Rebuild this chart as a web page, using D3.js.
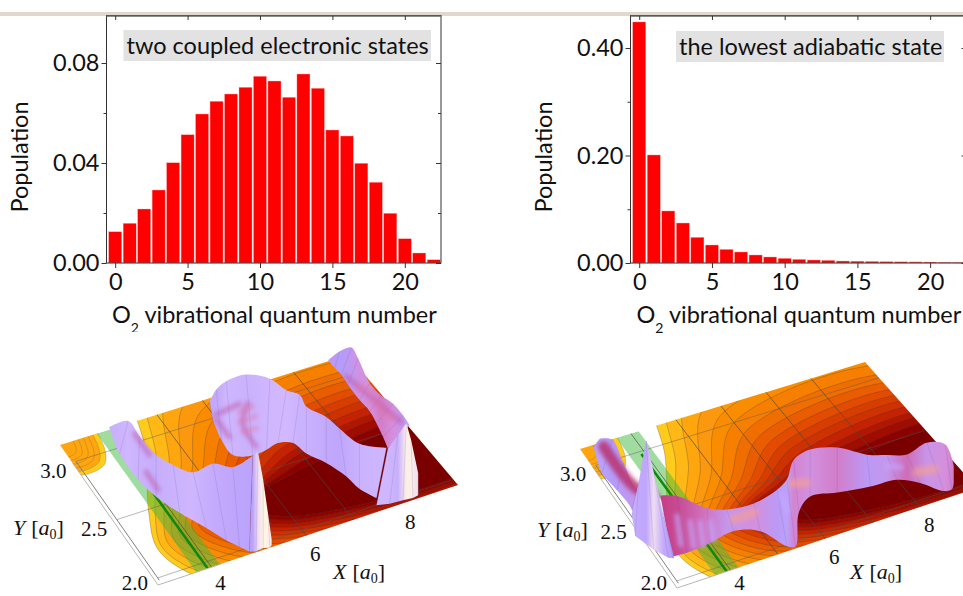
<!DOCTYPE html>
<html>
<head>
<meta charset="utf-8">
<script src="https://cdn.jsdelivr.net/npm/d3@7"></script>
<style>
  html, body { margin: 0; padding: 0; background: #fff; overflow: hidden; }
  text { font-family: Lato, sans-serif; fill: #111; }
</style>
</head>
<body>
<div class="chart"></div>
<script>
// bar charts
const vibrational = d3.range(0, 23);
const coupledPopulation = [0.0125, 0.0159, 0.0216, 0.0292, 0.0401, 0.0513, 0.0596, 0.0647, 0.0676, 0.0703, 0.0747, 0.0728,
  0.0663, 0.0756, 0.0699, 0.0532, 0.0508, 0.0399, 0.0323, 0.0199, 0.0097, 0.004, 0.0013];
const adiabaticPopulation = [0.4485, 0.201, 0.0968, 0.0744, 0.0478, 0.0335, 0.0254, 0.0205, 0.0149, 0.0112, 0.0087, 0.0068,
  0.0056, 0.005, 0.0037, 0.0034, 0.003, 0.0025, 0.0022, 0.002, 0.0018, 0.0015, 0.0012];
const vibTicks = [0, 5, 10, 15, 20];
const coupledMajor = [0, 0.04, 0.08];
const coupledMinor = [0.02, 0.06];
const adiabaticMajor = [0, 0.2, 0.4];
const adiabaticMinor = [0.1, 0.3];

// potential floor, contour levels from outer to inner
const levelNose = [3.3, 3.4, 3.55, 3.7, 3.85, 4.0, 4.15, 4.3, 4.45, 4.6, 4.72, 4.84, 4.95, 5.05, 5.15, 5.25];
const levelUpper = [3.6, 3.45, 3.3, 3.18, 3.08, 3.0, 2.92, 2.85, 2.79, 2.74, 2.69, 2.64, 2.59, 2.55, 2.5, 2.45];
const levelLower = [1.72, 1.76, 1.8, 1.83, 1.86, 1.89, 1.91, 1.93, 1.95, 1.97, 1.99, 2.01, 2.03, 2.05, 2.07, 2.09];
const cornerRadiusX = [0.76, 0.66, 0.56, 0.46, 0.36, 0.26];
const cornerRadiusY = [0.24, 0.21, 0.18, 0.15, 0.12, 0.09];
const xGrid = [4, 5, 6, 7, 8];
const yGrid = [2, 2.5, 3];
const xLabels = [4, 6, 8];
const yLabels = [2, 2.5, 3];

// wave packet ridges, rows are crest X, crest height, foot X, foot height, tone
const leftFar = [[6.46, 1.68, 6.46, 1.68, .6], [6.70, 1.73, 6.60, 1.58, .5], [6.95, 1.73, 6.74, 1.49, .6], [7.09, 1.60, 6.88, 1.37, .7],
  [7.34, 1.31, 7.12, 1.18, .75], [7.58, 1.15, 7.34, 1.03, .8], [7.83, 1.03, 7.48, .89, .75], [8.04, .88, 7.62, .73, .6], [8.18, .76, 7.72, .60, .35]];
const leftArch = [[3.96, 1.66, 4.03, 1.47, .4], [4.10, 1.76, 4.21, 1.24, .4], [4.31, 1.81, 4.45, 1.05, .3], [4.73, 1.81, 4.87, .98, .33],
  [5.23, 1.69, 5.16, .99, .3], [5.58, 1.52, 5.40, 1.02, .28], [5.86, 1.43, 5.72, .97, .33], [6.0, 1.29, 6.0, .82, .33],
  [6.42, 1.12, 6.42, .66, .4], [6.70, .96, 6.84, .46, .42], [7.12, .74, 7.12, .29, .33], [7.69, .61, 7.48, .14, .3]];
const leftSpikeFar = [[7.72, .60, 7.48, .07, .3], [7.93, .70, 7.76, .04, .35], [8.11, .79, 8.04, .03, .02], [8.21, .61, 8.25, .02, .02], [8.36, .25, 8.36, .03, .1]];
const leftWall = [[1.84, 1.74, 1.84, 1.74, .35], [2.24, 1.74, 2.06, 1.44, .3], [2.48, 1.55, 2.45, 1.12, .33], [2.83, 1.31, 2.83, .89, .36],
  [3.19, 1.15, 3.33, .65, .33], [3.61, 1.01, 3.89, .41, .3], [4.03, 1.03, 4.31, .22, .38], [4.45, .93, 4.59, .11, .42], [4.87, .98, 4.80, .03, .45]];
const leftSpikeNear = [[4.87, .98, 4.80, .03, .45], [4.98, 1.00, 4.94, .01, .1], [5.09, .70, 5.09, .02, .0], [5.19, .35, 5.23, .0, .0], [5.27, .07, 5.27, .02, .05]];
const leftStreaks = [[[2.38, 1.59], [2.69, 1.33]], [[2.62, 1.17], [2.87, .95]], [[4.10, 1.51], [4.59, 1.54]],
  [[4.77, 1.52], [4.66, 1.33], [4.94, 1.06]], [[4.10, 1.46], [4.38, 1.24]], [[6.84, 1.46], [7.34, 1.18], [8.0, .82]]];
const leftRipples = [[[4.59, 1.46], [4.87, 1.47]], [[4.59, 1.36], [4.94, 1.36]], [[4.66, 1.25], [4.94, 1.24]],
  [[7.12, 1.31], [7.40, 1.22]], [[7.34, 1.14], [7.62, 1.03]], [[7.55, .98], [7.83, .88]]];

const rightWall = [[1.25, 1.75, 1.11, 1.69, .45], [1.50, 1.70, 1.29, 1.40, .5], [1.74, 1.43, 1.60, 1.18, .55], [2.03, 1.12, 1.92, .93, .6], [2.38, 1.06, 1.99, .66, .7]];
const rightSpike = [[1.92, .90, 1.92, .87, .35], [2.06, 1.18, 1.99, .66, .4], [2.22, 1.58, 2.38, .46, .42], [2.38, 1.23, 2.69, .33, .1], [2.59, .76, 2.79, .31, .4], [2.81, .31, 2.81, .31, .5]];
const rightRidge = [[2.52, .98, 2.76, .33, .98], [2.87, .92, 3.08, .32, .95], [3.50, .70, 3.57, .34, .82], [3.92, .62, 4.07, .38, .62],
  [4.49, .59, 4.63, .29, .75], [4.98, .65, 5.19, .05, .55], [5.19, .72, 5.37, .02, .45], [5.33, .89, 5.44, .35, .78], [5.68, .94, 5.68, .47, .72],
  [6.25, .87, 6.25, .42, .8], [6.88, .70, 6.95, .37, .55], [7.30, .63, 7.51, .35, .62], [7.72, .57, 8.0, .24, .85], [8.14, .62, 8.50, .08, .65],
  [8.53, .54, 8.67, .07, .75], [8.71, .30, 8.71, .13, .8]];
const rightStreaks = [[[1.32, 1.66], [1.96, 1.16], [2.38, .99]]];
const rightRipples = [[[2.87, .72], [2.95, .42]], [[3.15, .62], [3.22, .36]], [[3.36, .58], [3.42, .34]], [[3.57, .55], [3.63, .36]],
  [[7.3, .52], [7.6, .46]], [[5.05, .6], [5.2, .4]]];
const rightGlow = [[[4.07, .50], [4.49, .50]], [[5.3, .66], [5.6, .62]], [[7.93, .36], [8.3, .33]]];

const svg = d3.select('.chart')
  .append('svg')
    .attr('width', 963)
    .attr('height', 596);

svg.append('rect')
  .attr('x', 0).attr('y', 12)
  .attr('width', 963).attr('height', 4)
  .attr('fill', '#dfd9cc');

const drawBars = (opts) => {
  const x = d3.scaleLinear().domain([-0.6, 22.5]).range(opts.xRange);
  const y = d3.scaleLinear().domain([0, opts.yMax]).range([263, 15.5]);
  const g = svg.append('g').classed('bars', true);
  const barWidth = (x(1) - x(0)) * 0.9;

  g.selectAll('rect')
    .data(opts.values)
    .enter()
    .append('rect')
      .attr('x', (d, i) => x(vibrational[i]) - barWidth / 2)
      .attr('y', (d) => y(d))
      .attr('width', barWidth)
      .attr('height', (d) => y(0) - y(d))
      .attr('fill', '#ff0000')
      .attr('stroke', '#ffb0b0')
      .attr('stroke-width', 0.4);

  // frame, darker on top
  const [x0, x1] = opts.xRange;
  g.append('rect')
    .attr('x', x0).attr('y', y.range()[1])
    .attr('width', x1 - x0).attr('height', y(0) - y.range()[1])
    .attr('fill', 'none')
    .attr('stroke', '#333');
  g.append('line')
    .attr('x1', x0).attr('x2', x1)
    .attr('y1', 16).attr('y2', 16)
    .attr('stroke', '#666').attr('stroke-width', 1.5);

  const bottom = g.append('g')
    .attr('transform', 'translate(0,263)')
    .call(d3.axisBottom(x).tickValues(vibTicks).tickSize(5).tickPadding(5).tickSizeOuter(0));
  bottom.selectAll('text').style('font-size', '23.5px').style('font-family', 'Lato');
  g.append('g')
    .attr('transform', 'translate(0,16)')
    .call(d3.axisBottom(x).tickValues(vibTicks).tickSize(4).tickFormat('').tickSizeOuter(0));
  const left = g.append('g')
    .attr('transform', `translate(${x0},0)`)
    .call(d3.axisLeft(y).tickValues(opts.major).tickSize(5).tickPadding(2).tickSizeOuter(0).tickFormat(d3.format('.2f')));
  left.selectAll('text').style('font-size', '23.5px').style('font-family', 'Lato');
  g.append('g')
    .attr('transform', `translate(${x0},0)`)
    .call(d3.axisLeft(y).tickValues(opts.minor).tickSize(3).tickFormat('').tickSizeOuter(0));
  g.append('g')
    .attr('transform', `translate(${x1},0)`)
    .call(d3.axisLeft(y).tickValues(opts.major).tickSize(5).tickFormat('').tickSizeOuter(0));
  g.append('g')
    .attr('transform', `translate(${x1},0)`)
    .call(d3.axisLeft(y).tickValues(opts.minor).tickSize(3).tickFormat('').tickSizeOuter(0));
  g.selectAll('.domain').remove();
  g.selectAll('.tick line').attr('stroke', '#333');

  g.append('text')
    .attr('transform', `translate(${opts.popX},157) rotate(-90)`)
    .attr('text-anchor', 'middle')
    .style('font-size', '23.5px')
    .text('Population');

  const xLabel = g.append('text')
    .attr('x', opts.labelX)
    .attr('y', 323)
    .style('font-size', '23.5px');
  xLabel.append('tspan').text('O');
  xLabel.append('tspan').attr('dy', 10).style('font-size', '14px').text('2');
  xLabel.append('tspan').attr('dy', -10).text(' vibrational quantum number');

  g.append('rect')
    .attr('x', opts.box[0]).attr('y', opts.box[1])
    .attr('width', opts.box[2]).attr('height', opts.box[3])
    .attr('fill', '#e2e2e2');
  g.append('text')
    .attr('x', opts.box[0] + 3)
    .attr('y', opts.box[1] + 24)
    .style('font-size', '23.5px')
    .text(opts.title);
};

drawBars({ values: coupledPopulation, xRange: [106.5, 441], yMax: 0.099, major: coupledMajor, minor: coupledMinor,
  popX: 28, labelX: 112, box: [123.5, 30, 307.5, 31], title: 'two coupled electronic states' });
drawBars({ values: adiabaticPopulation, xRange: [630.5, 966.5], yMax: 0.4605, major: adiabaticMajor, minor: adiabaticMinor,
  popX: 552, labelX: 636.5, box: [676, 31, 268, 31], title: 'the lowest adiabatic state' });

// the lower plot covers the foot of the left subscript
svg.append('rect').attr('x', 100).attr('y', 332).attr('width', 300).attr('height', 12).attr('fill', '#fff');

// 3d plots
const xDomain = [2.87, 9.2];
const yDomain = [1.95, 3.15];
const surfaceX = d3.scaleLinear().domain(xDomain).range([0, 1]);
const surfaceY = d3.scaleLinear().domain(yDomain).range([0, 1]);
const heightScale = d3.scaleLinear().domain([0, 1]).range([0, 100]);
const levelColor = d3.scaleLinear()
  .domain([0, 2, 5, 8, 11, 13, 15])
  .range(['#ffcb1f', '#ffa510', '#f77f00', '#e24c00', '#c42200', '#9e0c00', '#7a0000']);
const toneColor = d3.scaleLinear()
  .domain([0, 0.25, 0.5, 0.75, 1])
  .range(['#fff3e6', '#d6bcff', '#b49cfb', '#d58fdc', '#c4377f']);

const defs = svg.append('defs');
defs.append('filter').attr('id', 'soft')
  .append('feGaussianBlur').attr('stdDeviation', 0.5);
defs.append('filter').attr('id', 'blur')
  .attr('filterUnits', 'userSpaceOnUse')
  .attr('x', 0).attr('y', 0).attr('width', 963).attr('height', 596)
  .append('feGaussianBlur').attr('stdDeviation', 2);

const drawSurface = (opts) => {
  const { a, b, c, d } = opts;
  const project = (X, Y) => {
    const u = surfaceX(X), v = surfaceY(Y);
    const fx = a[0] + (b[0] - a[0]) * u, fy = a[1] + (b[1] - a[1]) * u;
    const bx = d[0] + (c[0] - d[0]) * u, by = d[1] + (c[1] - d[1]) * u;
    return [fx + (bx - fx) * v, fy + (by - fy) * v];
  };
  const ridgeX = d3.scaleLinear().domain(xDomain).range([a[0], b[0]]);
  const ridgeY = d3.scaleLinear().domain(xDomain).range([a[1], b[1]]);
  const lift = (X, h) => [ridgeX(X), ridgeY(X) - heightScale(h)];
  const smooth = d3.line().curve(d3.curveCatmullRom);
  const smoothClosed = d3.line().curve(d3.curveCatmullRomClosed);
  const straight = d3.line().curve(d3.curveLinearClosed);

  const clipId = `floor-${opts.id}`;
  defs.append('clipPath').attr('id', clipId)
    .append('path')
    .attr('d', straight([project(xDomain[0], yDomain[0]), project(xDomain[1], yDomain[0]),
      project(xDomain[1], yDomain[1]), project(xDomain[0], yDomain[1])]));

  const root = svg.append('g').classed('surface', true);
  const floor = root.append('g').attr('clip-path', `url(#${clipId})`).attr('filter', 'url(#soft)');

  // far corner patch
  floor.selectAll('.corner')
    .data(cornerRadiusX)
    .enter()
    .append('path')
      .classed('corner', true)
      .attr('d', (rx, i) => {
        const ry = cornerRadiusY[i], x0 = xDomain[0], y1 = yDomain[1];
        return smoothClosed([[x0 + rx, y1 + 0.1], [x0 + rx, y1 - 0.5 * ry], [x0 + 0.7 * rx, y1 - ry], [x0 - 0.1, y1 - ry], [x0 - 0.1, y1 + 0.1]]
          .map((p) => project(p[0], p[1])));
      })
      .attr('fill', (rx, i) => levelColor(i === 0 ? 0 : 2))
      .attr('stroke', '#444').attr('stroke-opacity', 0.35).attr('stroke-width', 0.6);

  // contour bands
  floor.selectAll('.level')
    .data(levelNose)
    .enter()
    .append('path')
      .classed('level', true)
      .attr('d', (xn, i) => {
        const yu = levelUpper[i], yl = levelLower[i];
        const ym = 2.2 + i * 0.01;
        const pts = [[10, yu], [xn + 2, yu], [xn + 1, ym + 0.5 * (yu - ym)], [xn + 0.3, ym + 0.2 * (yu - ym)], [xn, ym],
          [xn + 0.3, ym - 0.55 * (ym - yl)], [xn + 1.1, yl], [10, yl]];
        return smoothClosed(pts.map((p) => project(p[0], p[1])));
      })
      .attr('fill', (xn, i) => levelColor(i))
      .attr('stroke', '#333').attr('stroke-opacity', 0.45).attr('stroke-width', 0.6);

  // green stripe
  floor.append('path')
    .attr('d', straight([project(3.68, yDomain[0]), project(4.17, yDomain[0]), project(4.17, yDomain[1]), project(3.68, yDomain[1])]))
    .attr('fill', '#3fb83f').attr('fill-opacity', 0.5);
  floor.append('line')
    .datum([project(3.92, yDomain[0]), project(3.92, 2.98)])
    .attr('x1', (p) => p[0][0]).attr('y1', (p) => p[0][1])
    .attr('x2', (p) => p[1][0]).attr('y2', (p) => p[1][1])
    .attr('stroke', '#0a8a0a').attr('stroke-width', 2.5);

  // grid
  const grid = root.append('g');
  const gridLine = (p, q, color, w) => grid.append('line')
    .attr('x1', p[0]).attr('y1', p[1]).attr('x2', q[0]).attr('y2', q[1])
    .attr('stroke', color).attr('stroke-width', w);
  xGrid.forEach((X) => gridLine(project(X, yDomain[0]), project(X, yDomain[1]), 'rgba(70,70,70,0.65)', 1));
  yGrid.forEach((Y) => gridLine(project(2.95, Y), project(xDomain[1], Y), 'rgba(90,90,90,0.55)', 0.8));
  gridLine(project(xDomain[0], yDomain[0]), project(xDomain[0], 3), '#b5aea6', 0.9);
  gridLine(project(2.95, 1.98), project(2.95, 3), '#808080', 1);
  gridLine(project(xDomain[0], yDomain[0]), project(4.2, yDomain[0]), '#b5aea6', 0.9);

  // ridges, back to front, spikes keep their sharp tips
  const drawStrokes = (layer) => root.selectAll(null)
    .data(layer.lines)
    .enter()
    .append('path')
      .attr('d', (s) => smooth(s.map((p) => lift(p[0], p[1]))))
      .attr('fill', 'none')
      .attr('stroke', layer.color)
      .attr('stroke-width', layer.width)
      .attr('stroke-opacity', layer.opacity)
      .attr('stroke-linecap', 'round')
      .attr('filter', 'url(#blur)');

  opts.ridges.forEach((rows, k) => {
    const id = `ridge-${opts.id}-${k}`;
    const first = lift(rows[0][0], 0)[0], last = lift(rows[rows.length - 1][0], 0)[0];
    const grad = defs.append('linearGradient').attr('id', id)
      .attr('gradientUnits', 'userSpaceOnUse')
      .attr('x1', first).attr('x2', last).attr('y1', 0).attr('y2', 0);
    rows.forEach((r) => grad.append('stop')
      .attr('offset', (lift(r[0], 0)[0] - first) / (last - first))
      .attr('stop-color', toneColor(r[4])));
    const crest = rows.map((r) => lift(r[0], r[1]));
    const foot = rows.map((r) => lift(r[2], r[3])).reverse();
    const edge = opts.sharp.includes(k) ? d3.line() : smooth;
    root.append('path')
      .attr('d', `${edge(crest)}L${edge(foot).slice(1)}Z`)
      .attr('fill', `url(#${id})`)
      .attr('filter', 'url(#soft)');
    root.selectAll(null)
      .data(rows)
      .enter()
      .append('line')
        .attr('x1', (r) => lift(r[0], r[1])[0]).attr('y1', (r) => lift(r[0], r[1])[1])
        .attr('x2', (r) => lift(r[2], r[3])[0]).attr('y2', (r) => lift(r[2], r[3])[1])
        .attr('stroke', '#5a4a8a').attr('stroke-opacity', 0.25).attr('stroke-width', 0.6);
    if (k === opts.strokesAfter) opts.strokes.forEach(drawStrokes);
  });

  // labels
  const labels = root.append('g');
  const tick = (p, dx, dy, t) => labels.append('text')
    .attr('x', p[0] + dx).attr('y', Math.min(p[1] + dy, 583))
    .attr('text-anchor', 'middle')
    .attr('dominant-baseline', 'central')
    .style('font-family', '"Liberation Serif", serif')
    .style('font-size', '21px')
    .text(t);
  yLabels.forEach((Y) => tick(project(xDomain[0], Y), -19, 8, d3.format('.1f')(Y)));
  xLabels.forEach((X) => tick(project(X, yDomain[0]), 9, 18, X));
  const axisName = (x, y, name) => {
    const t = labels.append('text')
      .attr('x', x).attr('y', y)
      .style('font-family', '"Liberation Serif", serif')
      .style('font-size', '22px');
    t.append('tspan').style('font-style', 'italic').text(name);
    t.append('tspan').attr('dx', 6).text('[');
    t.append('tspan').style('font-style', 'italic').text('a');
    t.append('tspan').attr('dy', 4).style('font-size', '14px').text('0');
    t.append('tspan').attr('dy', -4).text(']');
  };
  axisName(opts.yName[0], opts.yName[1], 'Y');
  axisName(opts.xName[0], opts.xName[1], 'X');
};

drawSurface({ id: 'left', a: [158, 585], b: [458, 485], c: [348, 355], d: [60, 445],
  ridges: [leftFar, leftArch, leftSpikeFar, leftWall, leftSpikeNear], sharp: [2, 4], strokesAfter: 3,
  strokes: [{ lines: leftStreaks, color: '#c05aa8', width: 5, opacity: 0.6 }, { lines: leftRipples, color: '#e27aa8', width: 5, opacity: 0.5 }],
  yName: [13, 535], xName: [333, 579] });
drawSurface({ id: 'right', a: [677, 588], b: [977, 488], c: [865, 362], d: [580, 449],
  ridges: [rightWall, rightRidge, rightSpike], sharp: [2], strokesAfter: 1,
  strokes: [{ lines: rightStreaks, color: '#b8336f', width: 11, opacity: 0.85 }, { lines: rightRipples, color: '#c4a8ff', width: 5, opacity: 0.7 },
    { lines: rightGlow, color: '#f7a08c', width: 9, opacity: 0.6 }],
  yName: [537, 537], xName: [850, 579] });
</script>
</body>
</html>
